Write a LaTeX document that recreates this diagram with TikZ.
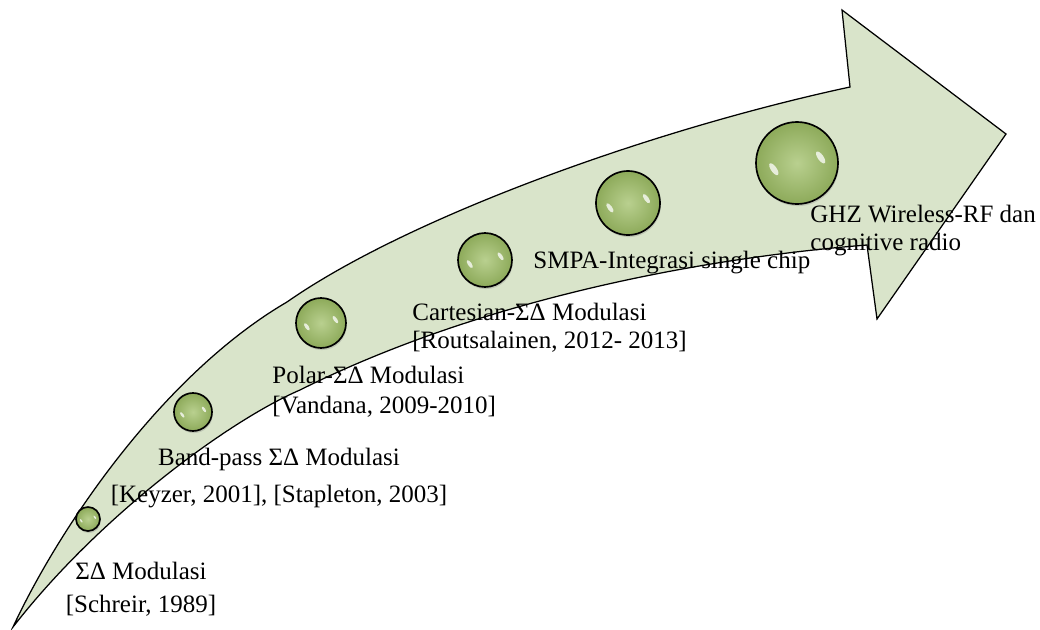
\documentclass[tikz,border=0pt]{standalone}
\usepackage{fontspec}
\setmainfont{Liberation Serif}
\usetikzlibrary{shadows}
\definecolor{arrowfill}{HTML}{D9E4CA}
\definecolor{balllight}{HTML}{B9D08F}
\definecolor{balldark}{HTML}{8DAA5A}
\tikzstyle{arrowbody}=[fill=arrowfill, draw=black, line width=0.6pt, line join=miter]
\tikzstyle{ball}=[shape=circle, draw, line width=0.8pt, inner sep=0pt, inner color=balllight, outer color=balldark, drop shadow={shadow xshift=0.4pt, shadow yshift=-1pt, opacity=0.3}]
\tikzstyle{hilite}=[fill=white, opacity=0.75]
\tikzstyle{milestone}=[font=\fontsize{12}{14.4}\selectfont, inner sep=0pt]

\begin{document}
\begin{tikzpicture}[x=0.48pt, y=-0.48pt]
        \useasboundingbox (0,0) rectangle (1040,629);
        \filldraw[arrowbody] (13,627) .. controls (63,520) and (167,372) .. (287,302)
            .. controls (407,218) and (650,130) .. (850,87)
            -- (842,10) -- (1006,134) -- (877,319) -- (867,245)
            .. controls (700,258) and (480,300) .. (300,390)
            .. controls (230,420) and (100,515) .. (13,627) -- cycle;
        \node[ball, minimum size=11.52pt] at (88,519) (b1) {};
        \node[ball, minimum size=18.24pt] at (193,412) (b2) {};
        \node[ball, minimum size=24pt] at (321,323) (b3) {};
        \node[ball, minimum size=25.92pt] at (485,260) (b4) {};
        \node[ball, minimum size=30.72pt] at (628,203) (b5) {};
        \node[ball, minimum size=39.36pt] at (797,163) (b6) {};
        \foreach \n/\r in {b1/12, b2/19, b3/25, b4/27, b5/32, b6/41} {
            \fill[hilite, rotate around={35:([shift={(-0.55*\r,-0.2*\r)}]\n.center)}] ([shift={(-0.55*\r,-0.2*\r)}]\n.center) ellipse ({0.07*\r} and {0.17*\r});
            \fill[hilite, rotate around={35:([shift={(0.55*\r,0.22*\r)}]\n.center)}] ([shift={(0.55*\r,0.22*\r)}]\n.center) ellipse ({0.07*\r} and {0.17*\r});
        }
        \node[milestone, align=center, anchor=base] at (141,612) (sdm) {ΣΔ Modulasi\\[1pt][Schreir, 1989]};
        \node[milestone, align=center, anchor=base] at (279,502) (bandpass) {Band-pass ΣΔ Modulasi\\[3pt][Keyzer, 2001], [Stapleton, 2003]};
        \node[milestone, align=left, anchor=base west] at (272,413) (polar) {Polar-ΣΔ Modulasi\\[0pt][Vandana, 2009-2010]};
        \node[milestone, align=left, anchor=base west] at (412,348) (cartesian) {Cartesian-ΣΔ Modulasi\\[-1pt][Routsalainen, 2012- 2013]};
        \node[milestone, anchor=base west] at (533,268) (smpa) {SMPA-Integrasi single chip};
        \node[milestone, align=left, anchor=base west] at (810,250) (ghz) {GHZ Wireless-RF dan\\[-1.4pt]cognitive radio};
    \end{tikzpicture}
\end{document}
